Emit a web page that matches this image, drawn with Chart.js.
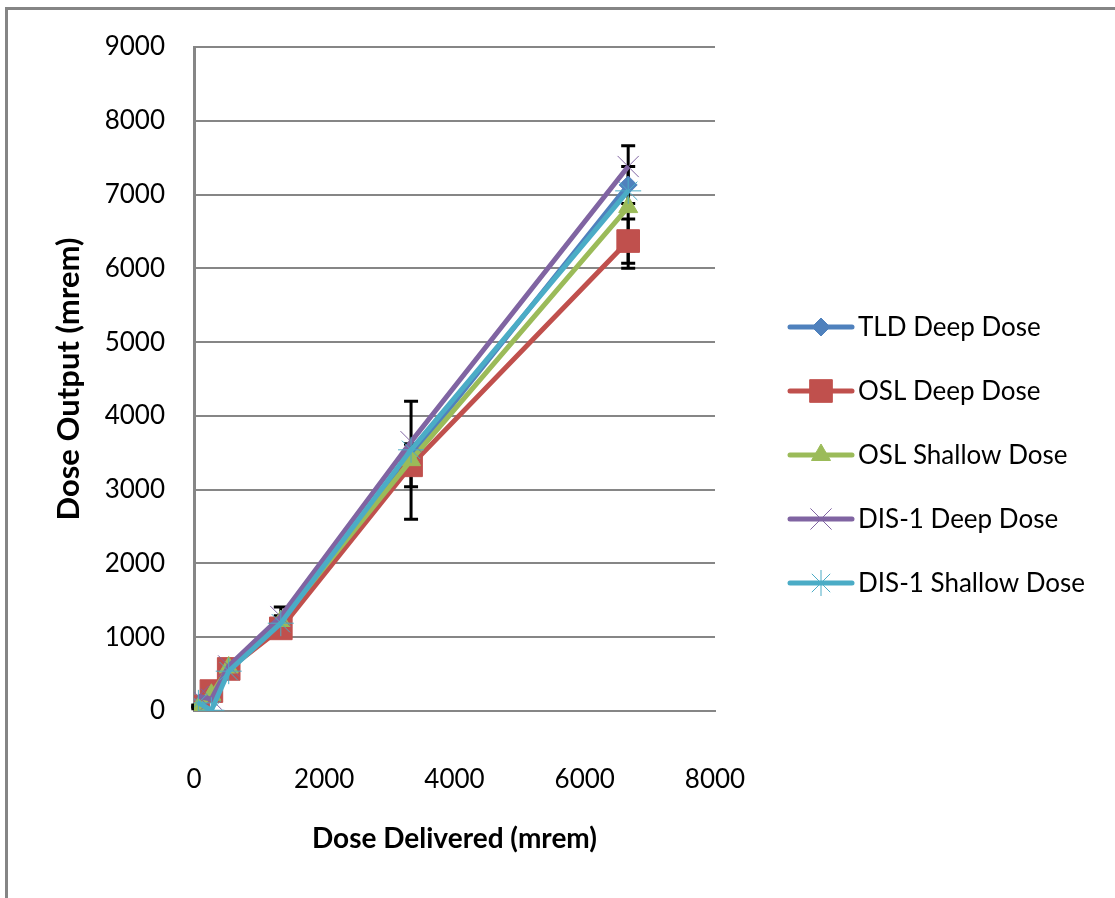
<!DOCTYPE html>
<html lang="en">
<head>
  <meta charset="utf-8">
  <title>Dose Output vs Dose Delivered</title>
  <script src="https://cdn.jsdelivr.net/npm/chart.js@4.4.0/dist/chart.umd.min.js"></script>
  <style type="text/css">
    body { margin: 0; background: #fff; }
    .wrap { position: relative; width: 1115px; height: 898px; }
    .frame {
      position: absolute; left: 5px; top: 7px; right: 0; bottom: 0;
      border-left: 3px solid #858585; border-top: 3px solid #858585;
    }
    canvas { position: absolute; left: 0; top: 0; }
  </style>
</head>
<body>
  <div class="wrap">
    <div class="frame"></div>
    <canvas id="doseChart" width="1115" height="898"></canvas>
  </div>
  <script>
    // values
    var doseDelivered = [67, 267, 533, 1333, 3333, 6667];
    var tldDeep       = [70, 240, 560, 1190, 3450, 7130];
    var oslDeep       = [60, 270, 570, 1120, 3330, 6370];
    var oslShallow    = [40, 220, 590, 1220, 3400, 6830];
    var disDeep       = [200, 160, 610, 1280, 3650, 7380];
    var disShallow    = [110, 10, 540, 1190, 3540, 7050];
    // +/- error bars
    var tldErr        = [10, 20, 40, 100, 170, 250];
    var oslDeepErr    = [10, 30, 60, 120, 290, 300];
    var oslShallowErr = [10, 30, 70, 190, 800, 830];
    var seriesNames = ['TLD Deep Dose', 'OSL Deep Dose', 'OSL Shallow Dose', 'DIS-1 Deep Dose', 'DIS-1 Shallow Dose'];
    var xTicks = [0, 2000, 4000, 6000, 8000];
    var yTicks = [0, 1000, 2000, 3000, 4000, 5000, 6000, 7000, 8000, 9000];

    var fontFamily = "Lato, 'Open Sans', sans-serif";

    function toPoints(ys) {
      return ys.map(function(y, i) { return { x: doseDelivered[i], y: y }; });
    }

    function series(idx, values, color, style, radius, pbw, errs) {
      return {
        label: seriesNames[idx],
        data: toPoints(values),
        showLine: true,
        borderColor: color,
        backgroundColor: color,
        borderWidth: 5,
        pointStyle: style,
        pointRadius: radius,
        pointHoverRadius: radius,
        pointBorderWidth: pbw,
        pointBorderColor: color,
        pointBackgroundColor: color,
        tension: 0,
        order: 4 - idx,
        errors: errs
      };
    }

    var datasets = [
      series(0, tldDeep, '#4F81BD', 'rectRot', 9, 1, tldErr),
      series(1, oslDeep, '#C0504D', 'rect', 16, 1, oslDeepErr),
      series(2, oslShallow, '#9BBB59', 'triangle', 11, 1, oslShallowErr),
      series(3, disDeep, '#8064A2', 'crossRot', 15, 1, null),
      series(4, disShallow, '#4BACC6', 'star', 13, 1, null)
    ];

    var errorBars = {
      id: 'errorBars',
      beforeDatasetsDraw: function(chart) {
        var ctx = chart.ctx, xs = chart.scales.x, ys = chart.scales.y;
        ctx.save();
        ctx.strokeStyle = '#000';
        chart.data.datasets.forEach(function(ds) {
          if (!ds.errors) return;
          ds.data.forEach(function(p, i) {
            var px = xs.getPixelForValue(p.x);
            var top = ys.getPixelForValue(p.y + ds.errors[i]);
            var bot = ys.getPixelForValue(p.y - ds.errors[i]);
            ctx.lineWidth = 3;
            ctx.beginPath();
            ctx.moveTo(px, top); ctx.lineTo(px, bot);
            ctx.moveTo(px - 7, top); ctx.lineTo(px + 7, top);
            ctx.moveTo(px - 7, bot); ctx.lineTo(px + 7, bot);
            ctx.stroke();
          });
        });
        ctx.restore();
      }
    };

    var sideLegend = {
      id: 'sideLegend',
      afterDraw: function(chart) {
        var ctx = chart.ctx;
        var x0 = 790, x1 = 852, top = 327, step = 64;
        ctx.save();
        chart.data.datasets.forEach(function(ds, i) {
          var y = top + i * step;
          ctx.strokeStyle = ds.borderColor;
          ctx.lineWidth = 5;
          ctx.lineCap = 'round';
          ctx.beginPath(); ctx.moveTo(x0, y); ctx.lineTo(x1, y); ctx.stroke();
          ctx.lineCap = 'butt';
          ctx.fillStyle = ds.pointBackgroundColor;
          ctx.strokeStyle = ds.pointBorderColor;
          ctx.lineWidth = ds.pointBorderWidth;
          Chart.helpers.drawPoint(ctx, { pointStyle: ds.pointStyle, radius: ds.pointRadius, rotation: 0, borderWidth: ds.pointBorderWidth }, (x0 + x1) / 2, y);
          ctx.fillStyle = '#000';
          ctx.font = '26px ' + fontFamily;
          ctx.textBaseline = 'middle';
          ctx.textAlign = 'left';
          ctx.fillText(ds.label, x1 + 6, y + 1);
        });
        ctx.restore();
      }
    };

    function plainLabel(v) { return String(v); }

    new Chart(document.getElementById('doseChart').getContext('2d'), {
      type: 'scatter',
      data: { datasets: datasets },
      plugins: [errorBars, sideLegend],
      options: {
        responsive: false,
        animation: false,
        layout: { padding: { left: 0, top: 47, right: 400, bottom: 0 } },
        plugins: { legend: { display: false }, tooltip: { enabled: false } },
        scales: {
          x: {
            type: 'linear', min: 0, max: 8000,
            afterBuildTicks: function(s) { s.ticks = xTicks.map(function(v) { return { value: v }; }); },
            afterFit: function(s) { s.height = 187; },
            grid: { display: false },
            border: { display: true, color: '#868686', width: 2 },
            ticks: { padding: 45, color: '#000', callback: plainLabel, font: { family: fontFamily, size: 26 } },
            title: {
              display: true, text: 'Dose Delivered (mrem)', color: '#000',
              font: { family: fontFamily, size: 28, weight: 'bold' },
              padding: { top: 0, bottom: 42 }
            }
          },
          y: {
            type: 'linear', min: 0, max: 9000,
            afterBuildTicks: function(s) { s.ticks = yTicks.map(function(v) { return { value: v }; }); },
            afterFit: function(s) { s.width = 194; },
            grid: { color: '#868686', lineWidth: 2, drawTicks: false },
            border: { display: true, color: '#868686', width: 3 },
            ticks: { padding: 29, color: '#000', callback: plainLabel, font: { family: fontFamily, size: 26 } },
            title: {
              display: true, text: 'Dose Output (mrem)', color: '#000',
              font: { family: fontFamily, size: 31, weight: 'bold' },
              padding: { top: 50, bottom: 0 }
            }
          }
        }
      }
    });
  </script>
</body>
</html>
